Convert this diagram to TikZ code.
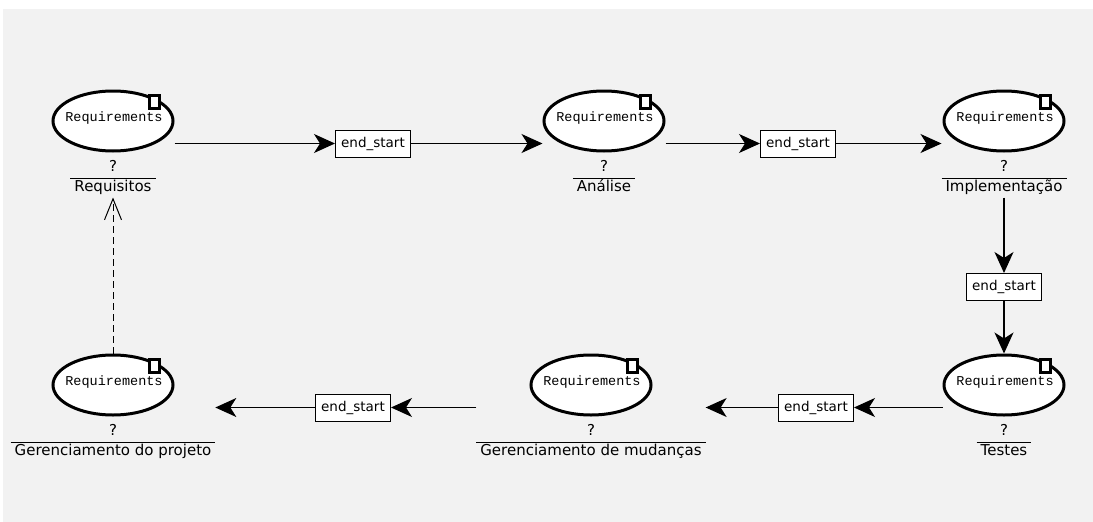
\documentclass[tikz,border=0pt]{standalone}
\usepackage{fontspec}
\setmainfont{DejaVu Sans}
\newfontfamily\reqfont{Liberation Mono}
\usetikzlibrary{arrows.meta,shapes.geometric,fit}

\definecolor{canvas}{HTML}{F2F2F2}

\tikzset{
  task/.style={ellipse, draw, line width=3pt, fill=white, inner sep=0pt,
    minimum width=120pt, minimum height=60pt},
  tasktext/.style={font=\reqfont\fontsize{13.5}{14}\selectfont, inner sep=0pt},
  dmark/.style={draw, line width=3pt, fill=white, inner sep=0pt,
    minimum width=10pt, minimum height=13pt},
  qmark/.style={font=\fontsize{15}{18}\selectfont, inner sep=0pt},
  namelab/.style={font=\fontsize{15}{18}\selectfont, anchor=north, inner xsep=4pt,
    inner ysep=2.5pt, outer sep=0pt, text height=11pt, text depth=3.5pt},
  rule/.style={line width=1pt},
  group/.style={inner sep=0pt, outer sep=0pt},
  relbox/.style={draw, line width=1pt, fill=white, font=\fontsize{13.5}{16}\selectfont,
    minimum width=75pt, minimum height=27pt, inner sep=0pt},
  conn/.style={line width=1.2pt, -{Stealth[length=21pt,width=19pt,inset=6pt]}},
  depend/.style={line width=1pt, dash pattern=on 7pt off 4pt,
    -{Straight Barb[length=21pt,width=17pt]}}
}

\begin{document}
\begin{tikzpicture}[x=1pt,y=-1pt]
  % canvas
  \fill[white] (0,0) rectangle (1093,522);
  \fill[canvas] (3,9) rectangle (1093,522);
  \useasboundingbox (0,0) rectangle (1093,522);

  % one task: ellipse, marker, "?" and name with a rule above it
  % #1 id, #2 x, #3 y of ellipse, #4 name
  \newcommand{\tasknode}[4]{%
    \node[task] (e#1) at (#2,#3) {};
    \node[tasktext] (t#1) at ([shift={(1,-3)}]e#1.center) {Requirements};
    \node[dmark] (d#1) at ([shift={(41,-19)}]e#1.center) {};
    \node[qmark] (q#1) at ([shift={(0,45)}]e#1.center) {?};
    \node[namelab] (l#1) at ([shift={(0,57)}]e#1.center) {#4};
    \draw[rule] (l#1.north west) -- (l#1.north east);
    \node[group, fit=(e#1)(l#1)] (c#1) {};
  }

  \tasknode{1}{113}{121}{Requisitos}
  \tasknode{2}{604}{121}{Análise}
  \tasknode{3}{1004}{121}{Implementação}
  \tasknode{5}{1004}{385}{Testes}
  \tasknode{4}{591}{385}{Gerenciamento de mudanças}
  \tasknode{6}{113}{385}{Gerenciamento do projeto}

  % relation boxes
  \node[relbox] (b1) at (373,0 |- c1.center) {end\_start};
  \node[relbox] (b2) at (798,0 |- c2.center) {end\_start};
  \node[relbox] (b3) at (c3.center |- 0,287) {end\_start};
  \node[relbox] (b4) at (816,0 |- c5.center) {end\_start};
  \node[relbox] (b5) at (353,0 |- c4.center) {end\_start};

  % connectors
  \draw[conn] (c1.east) -- (b1.west);
  \draw[conn] (b1.east) -- (c2.west);
  \draw[conn] (c2.east) -- (b2.west);
  \draw[conn] (b2.east) -- (c3.west);
  \draw[conn] (c3.south) -- (b3.north);
  \draw[conn] (b3.south) -- (c5.north);
  \draw[conn] (c5.west) -- (b4.east);
  \draw[conn] (b4.west) -- (c4.east);
  \draw[conn] (c4.west) -- (b5.east);
  \draw[conn] (b5.west) -- (c6.east);
  \draw[depend] (c6.north) -- (c1.south);
\end{tikzpicture}
\end{document}
